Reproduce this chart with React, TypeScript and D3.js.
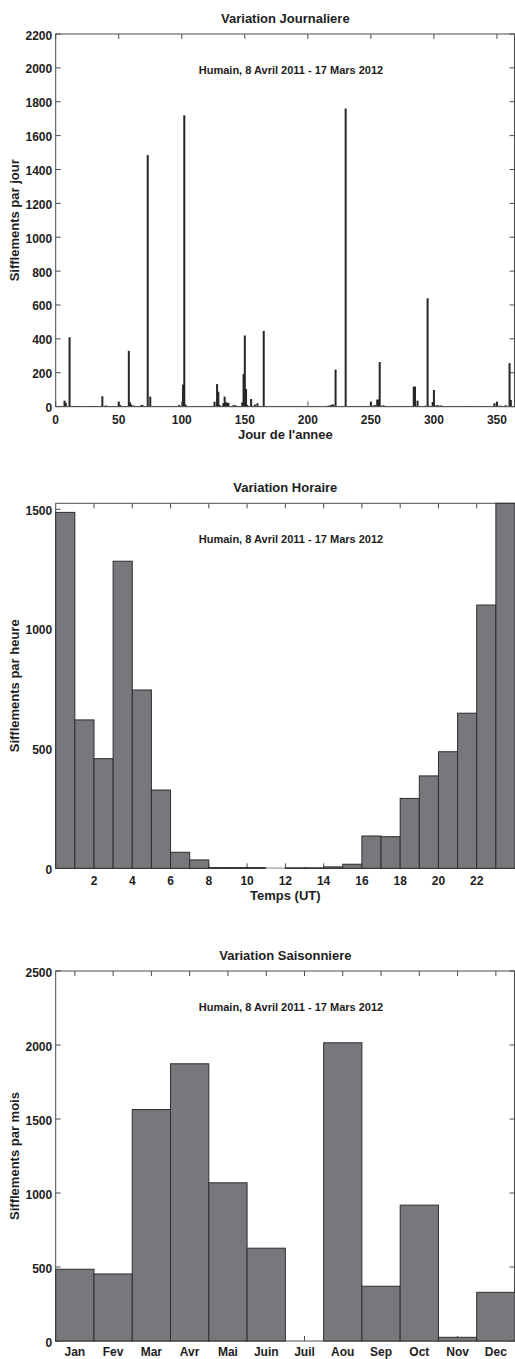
import React from "react";
import * as d3 from "d3";

// ---------- Data ----------
const subtitle = "Humain, 8 Avril 2011 - 17 Mars 2012";

// Daily chart: day of year and counts (only non-zero days)
const dailyDays = [1, 2, 3, 4, 7, 8, 11, 12, 14, 16, 18, 20, 29, 31, 33, 37, 39, 40, 50, 51, 53, 58, 59, 60, 62, 68, 69, 73, 75, 98, 101, 102, 103, 124, 126, 128, 129, 130, 133, 134, 135, 136, 137, 141, 142, 143, 145, 148, 149, 150, 151, 152, 155, 156, 158, 160, 162, 165, 216, 217, 218, 219, 220, 222, 223, 230, 250, 251, 253, 255, 256, 257, 258, 260, 284, 285, 287, 290, 293, 295, 296, 299, 300, 301, 302, 303, 305, 306, 327, 342, 348, 350, 352, 353, 357, 360, 361];
const dailyValues = [3, 3, 4, 3, 35, 22, 410, 4, 3, 3, 3, 3, 3, 3, 3, 61, 5, 6, 29, 10, 4, 329, 25, 12, 6, 10, 8, 1485, 59, 10, 130, 1720, 12, 4, 29, 133, 88, 10, 20, 59, 25, 23, 22, 8, 8, 6, 3, 25, 192, 420, 104, 10, 45, 5, 12, 20, 3, 447, 5, 5, 8, 10, 13, 218, 3, 1760, 29, 5, 10, 41, 42, 263, 5, 8, 118, 118, 35, 3, 5, 640, 5, 27, 98, 3, 8, 8, 6, 6, 3, 3, 20, 29, 5, 5, 8, 257, 39];
const dailyLightDays = [200];
const dailyLightValues = [31];
const dailyXTicks = [0, 50, 100, 150, 200, 250, 300, 350];
const dailyYTicks = [0, 200, 400, 600, 800, 1000, 1200, 1400, 1600, 1800, 2000, 2200];

// Hourly chart
const hours = d3.range(0, 24);
const hourlyValues = [1487, 620, 458, 1283, 745, 327, 67, 35, 3, 3, 3, 2, 2, 2, 6, 17, 135, 132, 292, 386, 487, 648, 1100, 1525];
const hourlyLight = [11];
const hourlyXTicks = [2, 4, 6, 8, 10, 12, 14, 16, 18, 20, 22];
const hourlyYTicks = [0, 500, 1000, 1500];

// Monthly chart
const months = ["Jan", "Fev", "Mar", "Avr", "Mai", "Juin", "Juil", "Aou", "Sep", "Oct", "Nov", "Dec"];
const monthlyValues = [485, 453, 1564, 1873, 1069, 627, 0, 2015, 370, 918, 25, 329];
const monthlyYTicks = [0, 500, 1000, 1500, 2000, 2500];

// ---------- Layout ----------
const W = 515;
const H = 1359;
const LEFT = 55.7;
const RIGHT = 515;
const FONT = "'Liberation Sans', Arial, Helvetica, sans-serif";
const TEXT = "#1e1e1e";
const AXIS = "#4a4a4a";
const BAR_FILL = "#77787c";
const BAR_EDGE = "#2e2e2e";
const TICK = 5;

type Panel = { top: number; bottom: number };
const p1: Panel = { top: 34, bottom: 406.6 };
const p2: Panel = { top: 503.3, bottom: 868.3 };
const p3: Panel = { top: 971, bottom: 1341 };

function Frame({
  p, title, ylabel, xlabel, xTicks, yTicks, x, y, xTickLabel, yTickLabel, xLabelDy = 17,
}: {
  p: Panel; title: string; ylabel: string; xlabel?: string;
  xTicks: number[]; yTicks: number[];
  x: (v: number) => number; y: (v: number) => number;
  xTickLabel: (v: number, i: number) => string; yTickLabel: (v: number) => string;
  xLabelDy?: number;
}) {
  const cx = (LEFT + RIGHT) / 2;
  const cy = (p.top + p.bottom) / 2;
  return (
    <g>
      <rect x={LEFT} y={p.top} width={RIGHT - LEFT - 0.5} height={p.bottom - p.top} fill="white" stroke={AXIS} strokeWidth={1} />
      {xTicks.map((t, i) => (
        <g key={"xt" + i}>
          <line x1={x(t)} x2={x(t)} y1={p.bottom} y2={p.bottom - TICK} stroke={AXIS} />
          <line x1={x(t)} x2={x(t)} y1={p.top} y2={p.top + TICK} stroke={AXIS} />
          <text x={x(t)} y={p.bottom + xLabelDy} textAnchor="middle" fontSize={12} fontWeight="bold" fill={TEXT} fontFamily={FONT}>
            {xTickLabel(t, i)}
          </text>
        </g>
      ))}
      {yTicks.map((t, i) => (
        <g key={"yt" + i}>
          <line x1={LEFT} x2={LEFT + TICK} y1={y(t)} y2={y(t)} stroke={AXIS} />
          <line x1={RIGHT - 0.5} x2={RIGHT - 0.5 - TICK} y1={y(t)} y2={y(t)} stroke={AXIS} />
          <text x={LEFT - 3.5} y={y(t) + 5.5} textAnchor="end" fontSize={12} fontWeight="bold" fill={TEXT} fontFamily={FONT}>
            {yTickLabel(t)}
          </text>
        </g>
      ))}
      <text x={cx} y={p.top - 11.5} textAnchor="middle" fontSize={13} fontWeight="bold" fill={TEXT} fontFamily={FONT}>{title}</text>
      <text x={291} y={p.top + 39.5} textAnchor="middle" fontSize={11} fontWeight="bold" fill={TEXT} fontFamily={FONT}>{subtitle}</text>
      <text transform={`translate(19,${cy}) rotate(-90)`} textAnchor="middle" fontSize={13} fontWeight="bold" fill={TEXT} fontFamily={FONT}>{ylabel}</text>
      {xlabel && (
        <text x={cx} y={p.bottom + 32} textAnchor="middle" fontSize={13} fontWeight="bold" fill={TEXT} fontFamily={FONT}>{xlabel}</text>
      )}
    </g>
  );
}

export default function App() {
  // Daily
  const x1 = d3.scaleLinear().domain([0, 364]).range([LEFT, RIGHT - 0.4]);
  const y1 = d3.scaleLinear().domain([0, 2200]).range([p1.bottom, p1.top]);
  const bw1 = 2;

  // Hourly
  const x2 = d3.scaleLinear().domain([0, 24]).range([LEFT, RIGHT]);
  const y2 = d3.scaleLinear().domain([0, 1525]).range([p2.bottom, p2.top]);

  // Monthly
  const x3 = d3.scaleLinear().domain([0.5, 12.5]).range([LEFT, RIGHT]);
  const y3 = d3.scaleLinear().domain([0, 2500]).range([p3.bottom, p3.top]);

  return (
    <svg width={W} height={H} style={{ position: "absolute", left: 0, top: 0, background: "white" }}>
      <rect width={W} height={H} fill="white" />

      {/* Daily */}
      <Frame p={p1} title="Variation Journaliere" ylabel="Sifflements par jour" xlabel="Jour de l'annee"
        xTicks={dailyXTicks} yTicks={dailyYTicks} x={x1} y={y1}
        xTickLabel={(v) => String(v)} yTickLabel={(v) => String(v)} />
      {dailyDays.map((d, i) => (
        <rect key={"d" + i} x={x1(d) - bw1 / 2} y={y1(dailyValues[i])} width={bw1}
          height={Math.max(0.8, y1(0) - y1(dailyValues[i]))} fill="#262626" />
      ))}
      {dailyLightDays.map((d, i) => (
        <rect key={"dl" + i} x={x1(d) - bw1 / 2} y={y1(dailyLightValues[i])} width={bw1}
          height={y1(0) - y1(dailyLightValues[i])} fill="#b0b0b0" />
      ))}
      <line x1={LEFT} x2={RIGHT} y1={p1.bottom} y2={p1.bottom} stroke="#555" strokeWidth={1} />

      {/* Hourly */}
      <Frame p={p2} title="Variation Horaire" ylabel="Sifflements par heure" xlabel="Temps (UT)"
        xTicks={hourlyXTicks} yTicks={hourlyYTicks} x={x2} y={y2}
        xTickLabel={(v) => String(v)} yTickLabel={(v) => String(v)} />
      {hours.map((h, i) => {
        const light = hourlyLight.includes(h);
        return (
          <rect key={"h" + i} x={x2(h)} y={y2(hourlyValues[i])} width={x2(h + 1) - x2(h)}
            height={y2(0) - y2(hourlyValues[i])} fill={light ? "#c8c8c8" : BAR_FILL}
            stroke={light ? "#c8c8c8" : BAR_EDGE} strokeWidth={1} />
        );
      })}

      {/* Monthly */}
      <Frame p={p3} title="Variation Saisonniere" ylabel="Sifflements par mois"
        xTicks={months.map((_, i) => i + 1)} yTicks={monthlyYTicks} x={x3} y={y3}
        xTickLabel={(_, i) => months[i]} yTickLabel={(v) => String(v)} xLabelDy={14.5} />
      {months.map((m, i) =>
        monthlyValues[i] > 0 ? (
          <rect key={"m" + m} x={x3(i + 0.5)} y={y3(monthlyValues[i])} width={x3(i + 1.5) - x3(i + 0.5)}
            height={y3(0) - y3(monthlyValues[i])} fill={BAR_FILL} stroke={BAR_EDGE} strokeWidth={1} />
        ) : null
      )}
    </svg>
  );
}
